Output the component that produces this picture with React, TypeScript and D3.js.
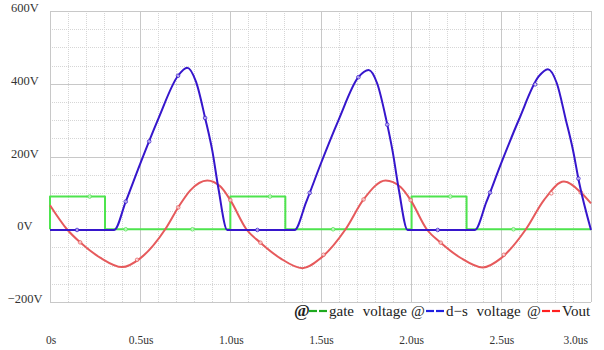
import React from 'react';
import * as d3 from 'd3';

// time in us, voltage in V
const timeTicks = [0, 0.5, 1, 1.5, 2, 2.5, 3];
const timeLabels = ['0s', '0.5us', '1.0us', '1.5us', '2.0us', '2.5us', '3.0us'];
const voltTicks = [600, 400, 200, 0, -200];
const voltLabels = ['600V', '400V', '200V', '0V', '\u2212200V'];

const gateVoltage: [number, number][] = [
  [0, 0], [0, 90], [0.305, 90], [0.305, 0], [1.0, 0], [1.0, 90], [1.305, 90], [1.305, 0],
  [2.005, 0], [2.005, 90], [2.31, 90], [2.31, 0], [3.0, 0],
];

const dsVoltage: [number, number][] = [
  [0, -2], [0.356, -2], [0.42, 76], [0.5, 180], [0.6, 303], [0.71, 422], [0.761, 444],
  [0.81, 405], [0.861, 304], [0.9, 216], [0.934, 112], [0.983, -2],
  [1.356, -2], [1.42, 74], [1.5, 178], [1.6, 300], [1.71, 418], [1.767, 438],
  [1.815, 400], [1.865, 300], [1.9, 214], [1.934, 110], [1.983, -2],
  [2.356, -2], [2.42, 75], [2.5, 179], [2.6, 301], [2.71, 420], [2.761, 440],
  [2.81, 402], [2.86, 302], [2.9, 218], [2.934, 129], [3.0, -2],
];

const vout: [number, number][] = [
  [0, 66], [0.094, 0], [0.167, -36], [0.278, -78], [0.4, -104], [0.5, -80], [0.639, 0],
  [0.711, 60], [0.778, 107], [0.872, 134], [0.944, 118], [1.0, 80],
  [1.089, 0], [1.167, -37], [1.278, -80], [1.4, -107], [1.5, -80], [1.639, 0],
  [1.739, 82], [1.861, 134], [1.944, 116], [2.0, 80],
  [2.089, 0], [2.167, -37], [2.278, -79], [2.4, -105], [2.5, -80], [2.639, 0],
  [2.739, 80], [2.85, 131], [2.944, 101], [3.0, 71],
];

// marker times along each trace
const gateMarks = [0.22, 0.42, 0.79, 1.22, 1.57, 2.22, 2.57];
const dsMarks = [0.15, 0.42, 0.55, 0.71, 0.86, 1.15, 1.44, 1.71, 1.87, 2.15, 2.44, 2.69, 2.93];
const voutMarks = [0.167, 0.483, 0.711, 1.0, 1.167, 1.517, 1.739, 2.0, 2.167, 2.517, 2.78, 2.944];

const legendItems = [
  { name: 'gate voltage', color: '#1faa1f', atX: 294 },
  { name: 'd\u2212s voltage', color: '#2020e0', atX: 411 },
  { name: 'Vout', color: '#ff2020', atX: 527 },
];

const FONT = 'Liberation Serif, Times New Roman, serif';

const x = d3.scaleLinear().domain([0, 3]).range([50, 591]);
const y = d3.scaleLinear().domain([-200, 600]).range([302, 11]);

const line = d3.line<[number, number]>().x(d => x(d[0])).y(d => y(d[1]));
const smooth = d3.line<[number, number]>().x(d => x(d[0])).y(d => y(d[1])).curve(d3.curveMonotoneX);

function valueAt(series: [number, number][], t: number) {
  const i = d3.bisector((d: [number, number]) => d[0]).left(series, t);
  if (i <= 0) return series[0][1];
  const a = series[i - 1], b = series[i];
  if (!b) return a[1];
  return a[1] + (b[1] - a[1]) * (t - a[0]) / (b[0] - a[0]);
}

const px = (v: number) => Math.round(v) + 0.5;

export default function App() {
  const minorT = d3.range(0, 30.5, 1).map(i => i / 10);
  const minorV = d3.range(-200, 601, 50);
  const traces = [
    { data: gateVoltage, gen: line, color: '#4ee44e', marks: gateMarks },
    { data: vout, gen: smooth, color: '#e65a5c', marks: voutMarks },
    { data: dsVoltage, gen: smooth, color: '#3616cc', marks: dsMarks },
  ];
  return (
    <svg width={604} height={350} fontFamily={FONT}
      style={{ position: 'absolute', left: 0, top: 0, background: '#fff' }}>
      <defs>
        <clipPath id="ylab"><rect x={0} y={0} width={44} height={350} /></clipPath>
      </defs>
      {/* grid */}
      {minorT.map(t => (
        <line key={'vt' + t} x1={px(x(t))} x2={px(x(t))} y1={y(600)} y2={y(-200)}
          stroke="#d6d6d6" strokeDasharray="1,1" />
      ))}
      {minorV.map(v => (
        <line key={'hv' + v} x1={x(0)} x2={x(3)} y1={px(y(v))} y2={px(y(v))}
          stroke="#d6d6d6" strokeDasharray="1,1" />
      ))}
      {timeTicks.map(t => (
        <line key={'Mt' + t} x1={px(x(t))} x2={px(x(t))} y1={y(600)} y2={y(-200)} stroke="#c8c8c8" />
      ))}
      {voltTicks.map(v => (
        <line key={'Mv' + v} x1={x(0)} x2={x(3)} y1={px(y(v))} y2={px(y(v))} stroke="#c8c8c8" />
      ))}
      {/* axis labels */}
      <g clipPath="url(#ylab)" fill="#333">
        {voltTicks.map((v, i) => (
          <text key={'yl' + v} x={25} y={y(v) + 1} textAnchor="middle"
            fontFamily={FONT} fontSize={12.5}>{voltLabels[i]}</text>
        ))}
      </g>
      <g fill="#333">
        {timeTicks.map((t, i) => (
          <text key={'xl' + t} x={i === timeTicks.length - 1 ? x(t) - 3 : x(t) + 1} y={344}
            textAnchor={i === timeTicks.length - 1 ? 'end' : 'middle'}
            fontFamily={FONT} fontSize={11.5}>{timeLabels[i]}</text>
        ))}
      </g>
      {/* traces */}
      {traces.map((s, k) => (
        <g key={'tr' + k}>
          <path d={s.gen(s.data) || ''} fill="none" stroke={s.color} strokeWidth={2} strokeLinejoin="round" />
          {s.marks.map(t => (
            <circle key={'m' + t} cx={x(t)} cy={y(valueAt(s.data, t))} r={1.8}
              fill="#fff" fillOpacity={0.6} stroke={s.color} strokeWidth={0.8} />
          ))}
        </g>
      ))}
      {/* legend */}
      {legendItems.map((it, i) => (
        <g key={it.name} fill="#222">
          <text x={it.atX} y={316} fontFamily={FONT} fontSize={i === 0 ? 17 : 15}
            fontWeight={i === 0 ? 'bold' : 'normal'}>@</text>
          <line x1={it.atX + 15} x2={it.atX + 23} y1={311} y2={311} stroke={it.color} strokeWidth={2.2} />
          <line x1={it.atX + 25} x2={it.atX + 33} y1={311} y2={311} stroke={it.color} strokeWidth={2.2} />
          <text x={it.atX + 35} y={316} fontFamily={FONT} fontSize={15} wordSpacing={5}>{it.name}</text>
        </g>
      ))}
    </svg>
  );
}
